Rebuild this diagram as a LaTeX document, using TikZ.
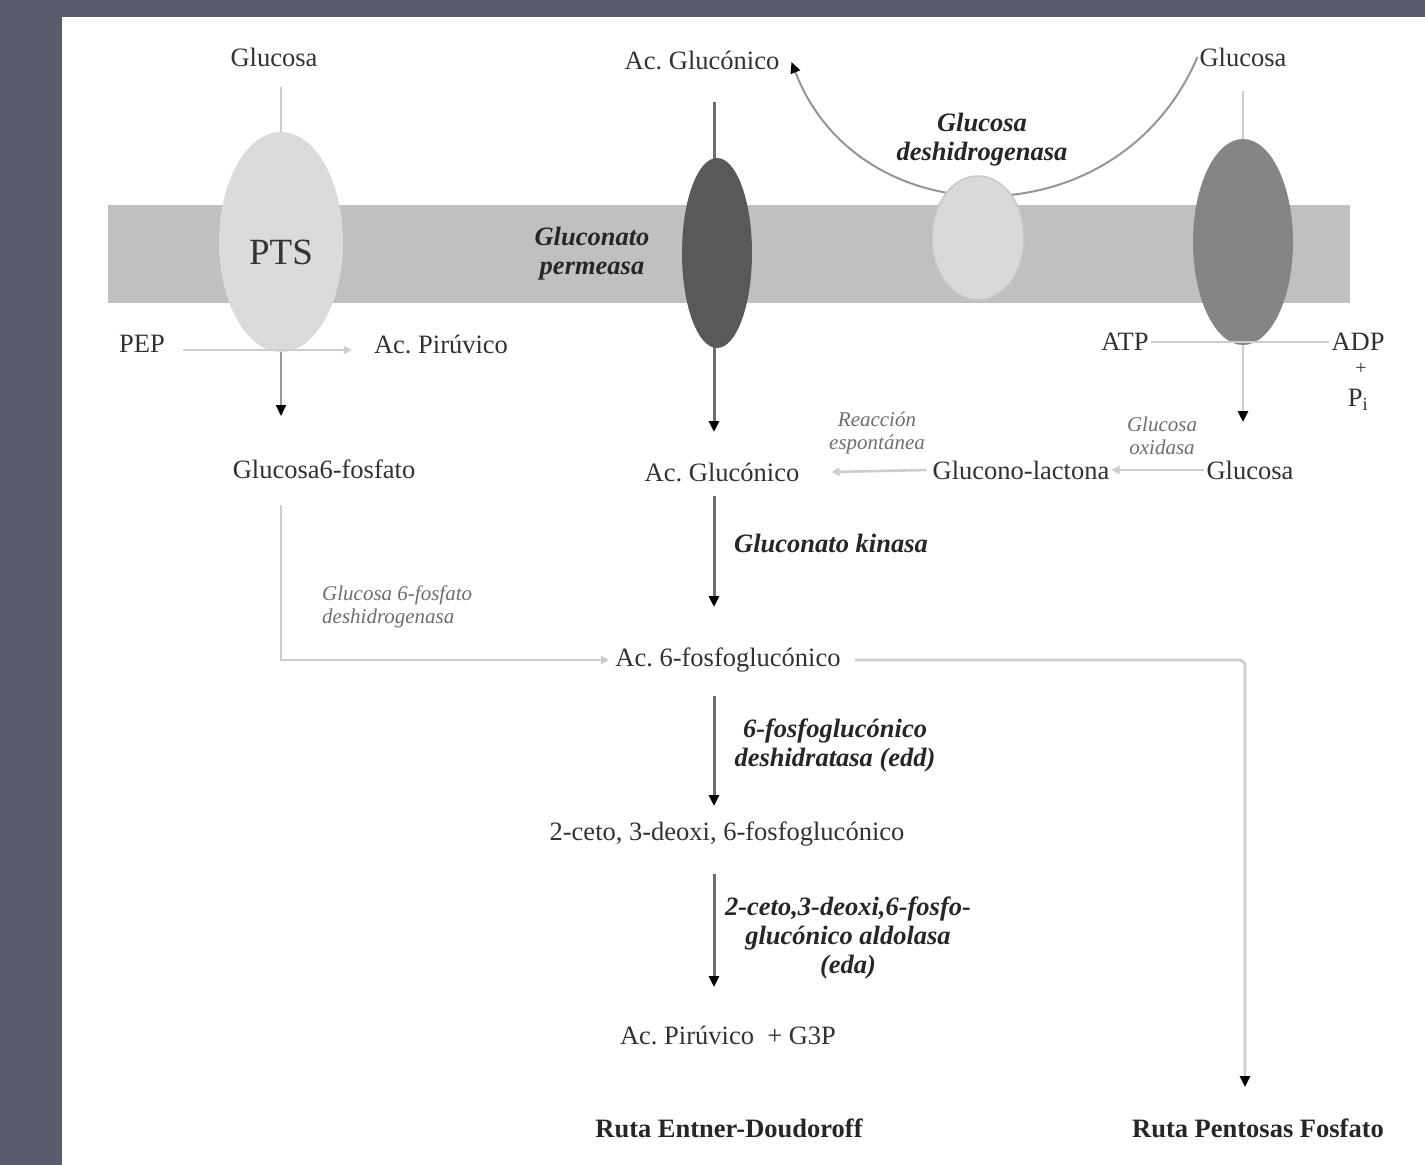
\documentclass[tikz,border=0pt]{standalone}
\usepackage{fontspec}
\setmainfont{Liberation Serif}
\usetikzlibrary{arrows.meta,shapes.geometric}
\definecolor{bgslate}{RGB}{88,92,108}
\definecolor{membr}{RGB}{192,192,192}
\definecolor{txtgray}{RGB}{50,50,50}
\definecolor{smallgray}{RGB}{110,110,110}
\definecolor{lightline}{RGB}{205,205,205}
\definecolor{midline}{RGB}{150,150,150}
\definecolor{darkline}{RGB}{110,110,110}
\begin{document}
\frenchspacing
\begin{tikzpicture}[x=1pt,y=-1pt,
  txt/.style={font=\fontsize{26.5}{29}\selectfont, text=txtgray, inner sep=2pt},
  enz/.style={font=\fontsize{26.5}{29}\selectfont\bfseries\itshape, text=black!85, align=center, inner sep=1pt},
  smalllbl/.style={font=\fontsize{21}{23}\selectfont\itshape, text=smallgray, align=center, inner sep=1pt},
  ruta/.style={font=\fontsize{26.5}{29}\selectfont\bfseries, text=black!85},
  lightc/.style={draw=lightline, line width=2.6pt},
  midc/.style={draw=midline, line width=2pt},
  darkc/.style={draw=darkline, line width=3pt},
  blacktip/.style={-{Triangle[length=11pt,width=10pt,color=black]}},
  lighttip/.style={-{Triangle[length=8pt,width=8pt,color=lightline]}},
  protein/.style={ellipse, draw=none, inner sep=0pt}
]
% background and panel
\fill[bgslate] (0,0) rectangle (1425,1165);
\fill[white] (62,17) rectangle (1425,1165);
\useasboundingbox (0,0) rectangle (1425,1165);
% membrane
\fill[membr] (108,205) rectangle (1350,303);

% coordinates for free ends
\coordinate (col) at (714,0);
\coordinate (c1) at (281,416);
\coordinate (c2) at (714,432);
\coordinate (c3) at (1243,422);
\coordinate (c4) at (714,607);
\coordinate (c5) at (1245,1087);
\coordinate (c6) at (714,806);
\coordinate (c7) at (714,987);

% text nodes
\node[txt] (glcL) at (274,57) {Glucosa};
\node[txt] (agTop) at (702,60) {Ac. Glucónico};
\node[txt] (glcR) at (1243,57) {Glucosa};
\node[enz] (gdhlbl) at (982,140) {Glucosa\\deshidrogenasa};
\node[enz] (permlbl) at (592,254) {Gluconato\\permeasa};
\node[txt] (pep) at (142,344) {PEP};
\node[txt] (piru) at (441,344) {Ac. Pirúvico};
\node[txt] (atp) at (1125,342) {ATP};
\node[txt] (adp) at (1358,342) {ADP};
\node[txt, font=\fontsize{20}{20}\selectfont] (plus) at (1361,369) {+};
\node[txt] (pi) at (1358,400) {P\textsubscript{i}};
\node[txt] (g6p) at (324,469) {Glucosa6-fosfato};
\node[txt] (agMid) at (722,472) {Ac. Glucónico};
\node[txt] (glact) at (1021,470) {Glucono-lactona};
\node[txt] (glcB) at (1250,470) {Glucosa};
\node[smalllbl] (reac) at (877,433) {Reacción\\espontánea};
\node[smalllbl] (gox) at (1162,436) {Glucosa\\oxidasa};
\node[enz] (gk) at (831,543) {Gluconato kinasa};
\node[smalllbl, align=left, anchor=west] (g6pdh) at (321,607) {Glucosa 6-fosfato\\deshidrogenasa};
\node[txt] (pg6) at (728,660) {Ac. 6-fosfoglucónico};
\node[enz] (edd) at (835,745) {6-fosfoglucónico\\deshidratasa (edd)};
\node[txt] (kdpg) at (727,834) {2-ceto, 3-deoxi, 6-fosfoglucónico};
\node[enz] (eda) at (848,938) {2-ceto,3-deoxi,6-fosfo-\\glucónico aldolasa\\(eda)};
\node[txt] (pyr) at (728,1035) {Ac. Pirúvico\ \ + G3P};
\node[ruta] (ed) at (729,1128) {Ruta Entner-Doudoroff};
\node[ruta] (ppp) at (1258,1128) {Ruta Pentosas Fosfato};

% connectors drawn below proteins
\draw[darkc, blacktip] ([yshift=-30pt]agTop.south -| col) -- (c2);
\draw[midc, blacktip] (glcR.west) .. controls (1120,240) and (860,240) .. ([xshift=10pt,yshift=-2pt]agTop.east);

% proteins
\node[protein, fill=black!14, minimum width=124pt, minimum height=220pt] (pts) at (281,242) {};
\node[font=\fontsize{37}{37}\selectfont, text=black!80] (ptslbl) at (281,252) {PTS};
\node[protein, fill=black!65, minimum width=70pt, minimum height=190pt] (perm) at (717,253) {};
\node[protein, fill=black!15, draw=black!22, line width=1.5pt, minimum width=92pt, minimum height=124pt] (gdh) at (978,238) {};
\node[protein, fill=black!48, minimum width=100pt, minimum height=206pt] (trans) at (1243,242) {};

% remaining connectors
\draw[lightc] ([yshift=-18pt]pts.north |- glcL.south) -- (pts.north);
\draw[midc, blacktip] (pts.south) -- (c1);
\draw[lightc, lighttip] ([xshift=16pt,yshift=-6pt]pep.east) -- ([xshift=-20pt,yshift=-6pt]piru.west);
\draw[lightc] ([yshift=-22pt]trans.north |- glcR.south) -- (trans.north);
\draw[lightc, blacktip] (trans.south) -- (c3);
\draw[lightc] (atp.east) -- (adp.west);
\draw[lightc, lighttip] (glcB.west) -- (glact.east);
\draw[lightc, lighttip] ([xshift=-4pt]glact.west) -- ([xshift=30pt]agMid.east);
\draw[darkc, blacktip] ([yshift=-12pt]agMid.south -| col) -- (c4);
\draw[lightc, lighttip] ([yshift=-24pt]g6p.south -| pts) |- ([xshift=-4pt]pg6.west);
\draw[lightc, blacktip, rounded corners=6pt] ([xshift=12pt]pg6.east) -| (c5);
\draw[darkc, blacktip] ([yshift=-22pt]pg6.south -| col) -- (c6);
\draw[darkc, blacktip] ([yshift=-26pt]kdpg.south -| col) -- (c7);
\end{tikzpicture}
\end{document}
